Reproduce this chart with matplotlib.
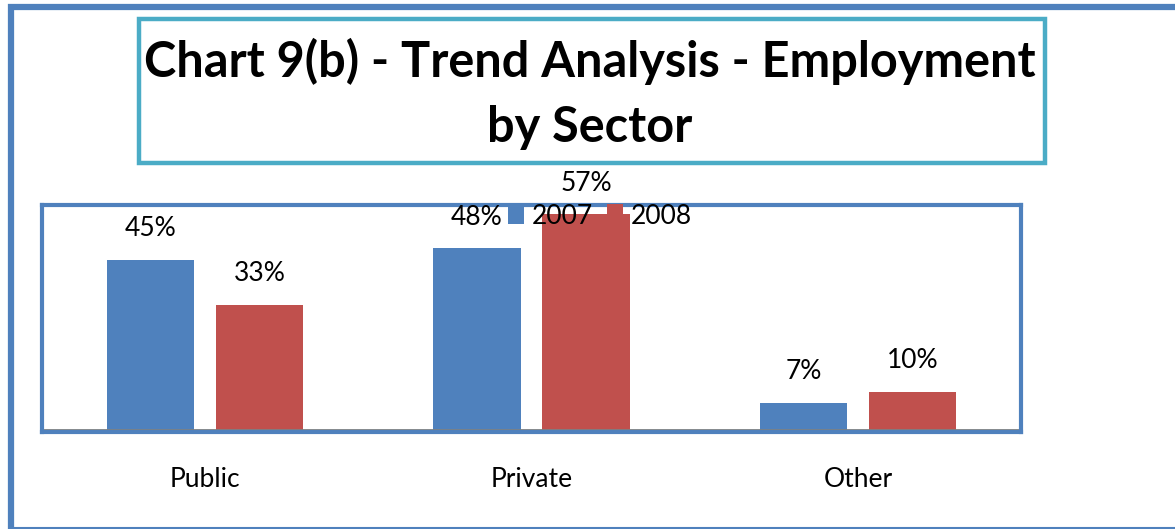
import matplotlib.pyplot as plt
import numpy as np
from matplotlib.patches import Rectangle
from matplotlib.lines import Line2D

# chart data
sectors = ["Public", "Private", "Other"]
share_2007 = [45, 48, 7]
share_2008 = [33, 57, 10]
series_labels = ["2007", "2008"]

blue = "#4F81BD"
red = "#C0504D"
teal = "#4BACC6"

plt.rcParams['font.family'] = ['Lato', 'DejaVu Sans']

fig = plt.figure(figsize=(11.75, 5.29), dpi=100)

# outer frame (chart area), right and bottom sides run off the image
fig.patches.append(Rectangle((11 / 1175, -20 / 529), 1.2, 1 + 13 / 529,
                             transform=fig.transFigure, fill=False,
                             edgecolor=blue, linewidth=4.5, zorder=0))
fig.lines.append(Line2D([11 / 1175, 1], [1.5 / 529, 1.5 / 529], transform=fig.transFigure,
                        color=blue, linewidth=1.5, zorder=0.6))

# title box
fig.patches.append(Rectangle((139 / 1175, 1 - 163 / 529), 906 / 1175, 144 / 529,
                             transform=fig.transFigure, fill=False,
                             edgecolor=teal, linewidth=3.2, zorder=1))
fig.text(590 / 1175, 1 - 94 / 529, "Chart 9(b) - Trend Analysis - Employment\nby Sector",
         ha="center", va="center", fontsize=35, fontweight="bold",
         linespacing=1.55)

ax = fig.add_axes([42 / 1175, 1 - 432 / 529, 979 / 1175, 227 / 529])
x = np.arange(len(sectors))
w = 0.267
off = 0.167
b1 = ax.bar(x - off, share_2007, w, color=blue, label=series_labels[0])
b2 = ax.bar(x + off, share_2008, w, color=red, label=series_labels[1])

for bars, vals in ((b1, share_2007), (b2, share_2008)):
    for b, v in zip(bars, vals):
        ax.text(b.get_x() + b.get_width() / 2, v + 8.3, f"{v}%",
                ha="center", va="center", fontsize=19)

ax.set_xlim(-0.5, 2.5)
ax.set_ylim(-0.6, 59.5)
ax.axhline(0, color="#808080", linewidth=2)
ax.set_yticks([])
ax.set_xticks(x)
ax.set_xticklabels(sectors, fontsize=19)
ax.tick_params(axis="x", length=0, pad=25)
for s in ax.spines.values():
    s.set_color(blue)
    s.set_linewidth(3)

fig.legend(handles=[b1, b2], labels=series_labels, loc="center",
           bbox_to_anchor=(600 / 1175, 1 - 216 / 529), ncol=2, frameon=False,
           fontsize=19, handlelength=0.6, handleheight=0.8, handletextpad=0.3,
           columnspacing=0.55, borderpad=0.2)

fig.savefig("out.png", dpi=100)
